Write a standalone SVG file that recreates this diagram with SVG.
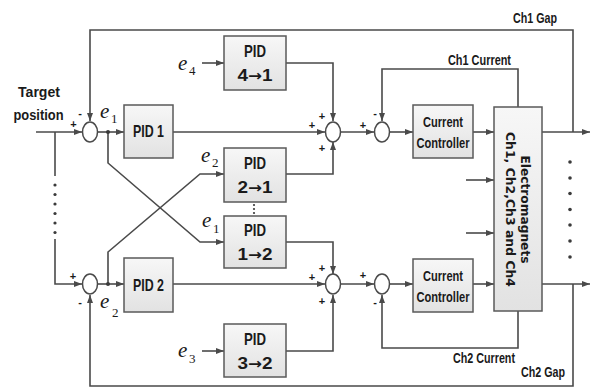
<svg xmlns="http://www.w3.org/2000/svg" width="592" height="388" viewBox="0 0 592 388">
  <style>
    .wire { fill: none; stroke: #4a4a4a; stroke-width: 1.6; }
    .arr { marker-end: url(#head); }
    .box { fill: url(#boxFill); stroke: #5a5a5a; stroke-width: 1.5; }
    .sum { fill: #fff; stroke: #4a4a4a; stroke-width: 1.5; }
    .lbl { font-family: "Liberation Sans", Arial, sans-serif; font-weight: bold; fill: #1a1a1a; text-anchor: middle; }
    .pid { font-size: 17px; }
    .ar { font-family: "DejaVu Sans", sans-serif; font-size: 15px; }
    .cc { font-size: 15px; }
    .sig { font-size: 14px; }
    .sgn { font-family: "Liberation Sans", Arial, sans-serif; font-weight: bold; font-size: 11px; fill: #1a1a1a; text-anchor: middle; }
    .ev { font-family: "Liberation Serif", "Times New Roman", serif; font-style: italic; font-size: 21px; fill: #1a1a1a; }
    .es { font-family: "Liberation Serif", "Times New Roman", serif; font-size: 13px; fill: #1a1a1a; }
    .em { font-family: "DejaVu Sans", Verdana, sans-serif; font-weight: bold; font-size: 13px; fill: #1a1a1a; text-anchor: middle; }
    .dot { fill: #3a3a3a; }
  </style>
  <defs>
    <linearGradient id="boxFill" x1="0" y1="0" x2="0" y2="1">
      <stop offset="0" stop-color="#f7f7f7"/>
      <stop offset="1" stop-color="#e2e2e2"/>
    </linearGradient>
    <marker id="head" markerUnits="userSpaceOnUse" markerWidth="8" markerHeight="6" refX="8" refY="3" orient="auto">
      <path d="M0,0 L8,3 L0,6 z" fill="#4a4a4a"/>
    </marker>
  </defs>

  <!-- connectors -->
  <g id="connectors">
    <!-- target position inputs -->
    <path class="wire arr" d="M36,132 H82"/>
    <path class="wire" d="M55,132 V176"/>
    <path class="wire arr" d="M55,239 V284 H82"/>
    <!-- gap feedback loops -->
    <path class="wire arr" d="M573,132 V30 H90 V121"/>
    <path class="wire arr" d="M573,284 V386 H90 V295"/>
    <!-- error signals to PID 1 / PID 2 -->
    <path class="wire arr" d="M97.5,132 H124"/>
    <path class="wire arr" d="M97.5,284 H124"/>
    <!-- cross-coupling paths -->
    <path class="wire arr" d="M108,132 V163 L200,242 H224"/>
    <path class="wire arr" d="M108,284 V252 L200,174 H224"/>
    <!-- external error inputs -->
    <path class="wire arr" d="M202,63 H224"/>
    <path class="wire arr" d="M202,351 H224"/>
    <!-- PID outputs to upper summing point -->
    <path class="wire arr" d="M286,63 H333 V121"/>
    <path class="wire arr" d="M173,132 H325"/>
    <path class="wire arr" d="M286,174 H333 V142"/>
    <!-- PID outputs to lower summing point -->
    <path class="wire arr" d="M286,242 H333 V274"/>
    <path class="wire arr" d="M173,284 H325"/>
    <path class="wire arr" d="M286,351 H333 V295"/>
    <!-- current loops -->
    <path class="wire arr" d="M340.5,132 H374"/>
    <path class="wire arr" d="M340.5,284 H374"/>
    <path class="wire arr" d="M389.5,132 H413"/>
    <path class="wire arr" d="M389.5,284 H413"/>
    <path class="wire arr" d="M473,132 H494"/>
    <path class="wire arr" d="M473,284 H494"/>
    <path class="wire arr" d="M518,107 V69 H382 V121"/>
    <path class="wire arr" d="M518,311 V348 H382 V295"/>
    <!-- other channel inputs -->
    <path class="wire arr" d="M466,180 H494"/>
    <path class="wire arr" d="M466,233 H494"/>
    <!-- outputs -->
    <path class="wire arr" d="M542,132 H590"/>
    <path class="wire arr" d="M542,284 H590"/>
    <!-- junction points -->
    <circle class="dot" cx="108" cy="132" r="2"/>
    <circle class="dot" cx="108" cy="284" r="2"/>
    <!-- ellipsis dots -->
    <g class="dot">
      <circle cx="55" cy="185" r="1.6"/>
      <circle cx="55" cy="194.5" r="1.6"/>
      <circle cx="55" cy="204" r="1.6"/>
      <circle cx="55" cy="213.5" r="1.6"/>
      <circle cx="55" cy="223" r="1.6"/>
      <circle cx="55" cy="232.5" r="1.6"/>
      <circle cx="254" cy="205" r="1.1"/>
      <circle cx="254" cy="209" r="1.1"/>
      <circle cx="254" cy="213" r="1.1"/>
      <circle cx="570" cy="162" r="1.8"/>
      <circle cx="570" cy="178" r="1.8"/>
      <circle cx="570" cy="193.5" r="1.8"/>
      <circle cx="570" cy="209.5" r="1.8"/>
      <circle cx="570" cy="225" r="1.8"/>
      <circle cx="570" cy="241" r="1.8"/>
      <circle cx="570" cy="257" r="1.8"/>
    </g>
    <!-- signal names -->
    <text class="lbl sig" x="479.5" y="65" textLength="63" lengthAdjust="spacingAndGlyphs">Ch1 Current</text>
    <text class="lbl sig" x="484" y="363" textLength="62" lengthAdjust="spacingAndGlyphs">Ch2 Current</text>
    <text class="lbl sig" x="535" y="23" textLength="44" lengthAdjust="spacingAndGlyphs">Ch1 Gap</text>
    <text class="lbl sig" x="543" y="377" textLength="44" lengthAdjust="spacingAndGlyphs">Ch2 Gap</text>
  </g>

  <!-- input label -->
  <g id="target">
    <text class="lbl" font-size="15.5" x="39" y="96.5" textLength="42" lengthAdjust="spacingAndGlyphs">Target</text>
    <text class="lbl" font-size="15" x="38.5" y="120" textLength="50" lengthAdjust="spacingAndGlyphs">position</text>
  </g>

  <!-- summing junctions -->
  <g id="sum1">
    <ellipse class="sum" cx="90" cy="132" rx="7.5" ry="10"/>
    <text class="sgn" x="73.5" y="128">+</text>
    <text class="sgn" x="80" y="117">-</text>
  </g>
  <g id="sum2">
    <ellipse class="sum" cx="90" cy="284" rx="7.5" ry="10"/>
    <text class="sgn" x="73" y="280">+</text>
    <text class="sgn" x="80" y="306">-</text>
  </g>
  <g id="sum3">
    <ellipse class="sum" cx="333" cy="132" rx="7.5" ry="10"/>
    <text class="sgn" x="322" y="120">+</text>
    <text class="sgn" x="312" y="129">+</text>
    <text class="sgn" x="322" y="152">+</text>
  </g>
  <g id="sum4">
    <ellipse class="sum" cx="382" cy="132" rx="7.5" ry="10"/>
    <text class="sgn" x="363" y="129">+</text>
    <text class="sgn" x="375" y="117">-</text>
  </g>
  <g id="sum5">
    <ellipse class="sum" cx="333" cy="284" rx="7.5" ry="10"/>
    <text class="sgn" x="322" y="272">+</text>
    <text class="sgn" x="312" y="281">+</text>
    <text class="sgn" x="322" y="305">+</text>
  </g>
  <g id="sum6">
    <ellipse class="sum" cx="382" cy="284" rx="7.5" ry="10"/>
    <text class="sgn" x="363" y="279">+</text>
    <text class="sgn" x="375" y="306">-</text>
  </g>

  <!-- error labels -->
  <g id="errors">
    <text class="ev" x="100" y="118">e</text><text class="es" x="111" y="123">1</text>
    <text class="ev" x="100" y="308">e</text><text class="es" x="112" y="317">2</text>
    <text class="ev" x="178" y="70">e</text><text class="es" x="189" y="75">4</text>
    <text class="ev" x="178" y="357">e</text><text class="es" x="189" y="363">3</text>
    <text class="ev" x="201" y="162">e</text><text class="es" x="212" y="167">2</text>
    <text class="ev" x="202" y="227">e</text><text class="es" x="213" y="233">1</text>
  </g>

  <!-- controllers -->
  <g id="pid1">
    <rect class="box" x="124" y="105" width="49" height="53"/>
    <text class="lbl pid" x="148.5" y="137" textLength="31" lengthAdjust="spacingAndGlyphs">PID 1</text>
  </g>
  <g id="pid2">
    <rect class="box" x="124" y="258" width="49" height="54"/>
    <text class="lbl pid" x="148.5" y="291" textLength="31" lengthAdjust="spacingAndGlyphs">PID 2</text>
  </g>
  <g id="pid41">
    <rect class="box" x="224" y="36" width="62" height="54"/>
    <text class="lbl pid" x="255" y="57" textLength="22" lengthAdjust="spacingAndGlyphs">PID</text>
    <text class="lbl pid" x="255" y="81" textLength="35" lengthAdjust="spacingAndGlyphs">4<tspan class="ar">→</tspan>1</text>
  </g>
  <g id="pid21">
    <rect class="box" x="224" y="148" width="62" height="54"/>
    <text class="lbl pid" x="255" y="169" textLength="22" lengthAdjust="spacingAndGlyphs">PID</text>
    <text class="lbl pid" x="255" y="193" textLength="35" lengthAdjust="spacingAndGlyphs">2<tspan class="ar">→</tspan>1</text>
  </g>
  <g id="pid12">
    <rect class="box" x="224" y="216" width="62" height="52"/>
    <text class="lbl pid" x="255" y="236" textLength="22" lengthAdjust="spacingAndGlyphs">PID</text>
    <text class="lbl pid" x="255" y="260" textLength="35" lengthAdjust="spacingAndGlyphs">1<tspan class="ar">→</tspan>2</text>
  </g>
  <g id="pid32">
    <rect class="box" x="224" y="324" width="62" height="53"/>
    <text class="lbl pid" x="255" y="345" textLength="22" lengthAdjust="spacingAndGlyphs">PID</text>
    <text class="lbl pid" x="255" y="369" textLength="35" lengthAdjust="spacingAndGlyphs">3<tspan class="ar">→</tspan>2</text>
  </g>
  <g id="cc1">
    <rect class="box" x="413" y="105" width="60" height="53"/>
    <text class="lbl cc" x="443" y="127" textLength="40" lengthAdjust="spacingAndGlyphs">Current</text>
    <text class="lbl cc" x="443" y="148" textLength="53" lengthAdjust="spacingAndGlyphs">Controller</text>
  </g>
  <g id="cc2">
    <rect class="box" x="413" y="259" width="60" height="53"/>
    <text class="lbl cc" x="443" y="281" textLength="40" lengthAdjust="spacingAndGlyphs">Current</text>
    <text class="lbl cc" x="443" y="302" textLength="53" lengthAdjust="spacingAndGlyphs">Controller</text>
  </g>

  <!-- plant -->
  <g id="electromagnets">
    <rect class="box" x="494" y="107" width="48" height="204"/>
    <text class="em" transform="translate(520.5,209.5) rotate(90)" textLength="108" lengthAdjust="spacingAndGlyphs">Electromagnets</text>
    <text class="em" transform="translate(505.5,209.5) rotate(90)" textLength="155" lengthAdjust="spacingAndGlyphs">Ch1, Ch2,Ch3 and Ch4</text>
  </g>
</svg>
